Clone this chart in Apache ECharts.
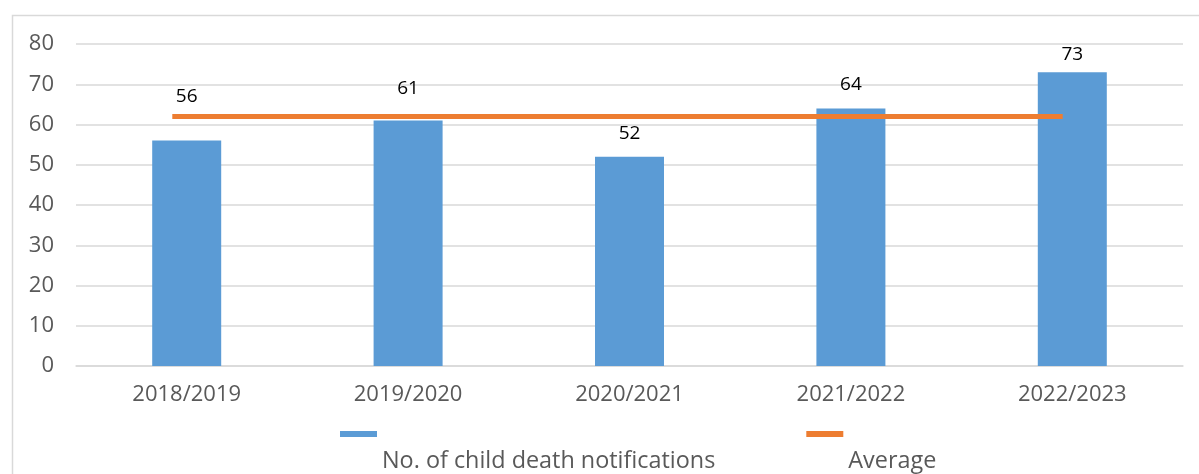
<!DOCTYPE html>
<html>
<head>
<meta charset="utf-8">
<script src="https://cdn.jsdelivr.net/npm/echarts@6/dist/echarts.min.js"></script>
<style>html,body{margin:0;padding:0;background:#fff}#c{width:1199px;height:474px}</style>
</head>
<body>
<div id="c"></div>
<script>
const categories = ['2018/2019', '2019/2020', '2020/2021', '2021/2022', '2022/2023'];
const notifications = [56, 61, 52, 64, 73];
const average = [62, 62, 62, 62, 62];
const yTicks = { min: 0, max: 80, interval: 10 };
const labelDistances = [35, 22, 14, 14, 8];

const FONT = 'Open Sans';
const chart = echarts.init(document.getElementById('c'), null, { renderer: 'canvas' });
chart.setOption({
  animation: false,
  backgroundColor: '#fff',
  textStyle: { fontFamily: FONT },
  graphic: [{
    type: 'rect', silent: true, z: -10,
    shape: { x: 12.5, y: 15.5, width: 1200, height: 470 },
    style: { fill: 'none', stroke: '#d9d9d9', lineWidth: 1.5 }
  }],
  grid: [
    { left: 76, right: 16, top: 44, bottom: 108 },
    { left: 61, right: 25, top: 44, bottom: 108 }
  ],
  legend: {
    left: 340, top: 379, padding: 0,
    icon: 'rect', itemWidth: 37, itemHeight: 6, itemGap: 91,
    formatter: name => '\n' + name,
    textStyle: { fontFamily: FONT, fontSize: 23.4, color: '#595959', lineHeight: 55 },
    data: ['No. of child death notifications', 'Average']
  },
  xAxis: [
    {
      type: 'category', gridIndex: 0, data: categories,
      axisLine: { lineStyle: { color: '#d9d9d9', width: 1.5 } },
      axisTick: { show: false },
      axisLabel: { fontFamily: FONT, fontSize: 22, color: '#595959', margin: 18 }
    },
    {
      type: 'category', gridIndex: 1, data: categories, show: false
    }
  ],
  yAxis: [
    {
      type: 'value', gridIndex: 0, min: yTicks.min, max: yTicks.max, interval: yTicks.interval,
      axisLine: { show: false }, axisTick: { show: false },
      splitLine: { lineStyle: { color: '#d9d9d9', width: 1.5 } },
      axisLabel: { fontFamily: FONT, fontSize: 22, color: '#595959', margin: 22 }
    },
    {
      type: 'value', gridIndex: 1, min: yTicks.min, max: yTicks.max, interval: yTicks.interval, show: false
    }
  ],
  series: [
    {
      name: 'No. of child death notifications', type: 'bar',
      xAxisIndex: 0, yAxisIndex: 0, barWidth: 69,
      itemStyle: { color: '#5B9BD5' },
      data: notifications.map((v, i) => ({
        value: v,
        label: { show: true, position: 'top', distance: labelDistances[i], fontFamily: FONT, fontSize: 19, color: '#000' }
      }))
    },
    {
      name: 'Average', type: 'line', xAxisIndex: 1, yAxisIndex: 1,
      showSymbol: false, symbol: 'none',
      itemStyle: { color: '#ED7D31' },
      lineStyle: { color: '#ED7D31', width: 5 },
      data: average, z: 3
    }
  ]
});
</script>
</body>
</html>
